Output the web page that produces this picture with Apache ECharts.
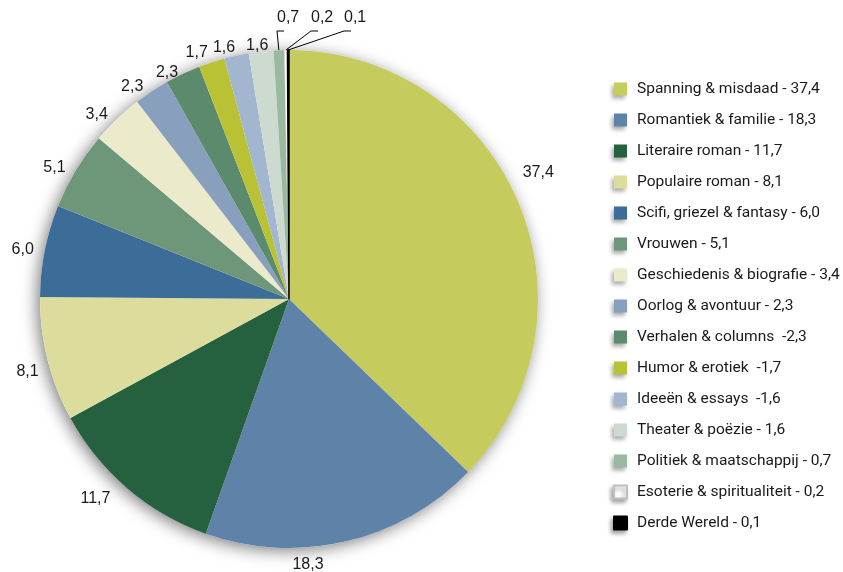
<!DOCTYPE html>
<html>
<head>
<meta charset="utf-8">
<script src="https://cdn.jsdelivr.net/npm/echarts@6/dist/echarts.min.js"></script>
<style>
  html, body { margin: 0; padding: 0; background: #fff; }
  #chart { width: 843px; height: 572px; }
</style>
</head>
<body>
<div id="chart"></div>
<script>
// legend names (as printed), values and slice colours, clockwise from 12 o'clock
const names = [
  "Spanning & misdaad - 37,4",
  "Romantiek & familie - 18,3",
  "Literaire roman - 11,7",
  "Populaire roman - 8,1",
  "Scifi, griezel & fantasy - 6,0",
  "Vrouwen - 5,1",
  "Geschiedenis & biografie - 3,4",
  "Oorlog & avontuur - 2,3",
  "Verhalen & columns  -2,3",
  "Humor & erotiek  -1,7",
  "Ideeën & essays  -1,6",
  "Theater & poëzie - 1,6",
  "Politiek & maatschappij - 0,7",
  "Esoterie & spiritualiteit - 0,2",
  "Derde Wereld - 0,1"
]
const values = [37.4, 18.3, 11.7, 8.1, 6.0, 5.1, 3.4, 2.3, 2.3, 1.7, 1.6, 1.6, 0.7, 0.2, 0.1]
const colors = [
  "#c6cb5d", "#5f82a8", "#26613f", "#dcdd9c", "#3b6d98", "#6e977a", "#ebebcb",
  "#889fbe", "#5b8b6c", "#b9c135", "#a3b6d0", "#ccdacf", "#9bb9a0", "#ffffff", "#000000"
]
// the three thinnest slices get their labels lifted to a row above the pie
const topRow = [12, 13, 14]
// small nudges so the value labels sit where the original put them
const nudge = { 0: [-6, -27], 1: [-60, 17], 2: [-8, 6], 3: [2, 11], 8: [3, 4], 9: [3, -4], 10: [5, -2], 11: [13, 0] }

const chart = echarts.init(document.getElementById("chart"))

const fmt = v => v.toFixed(1).replace(".", ",")

const option = {
  animation: false,
  legend: {
    orient: "vertical",
    left: 608,
    top: 76,
    itemWidth: 13,
    itemHeight: 13,
    itemGap: 15,
    icon: "rect",
    selectedMode: false,
    textStyle: {
      fontFamily: "Roboto, sans-serif",
      fontSize: 15.5,
      color: "#1a1a1a",
      padding: [0, 0, 0, 5]
    },
    itemStyle: {
      shadowBlur: 4,
      shadowOffsetX: -2,
      shadowOffsetY: 3,
      shadowColor: "rgba(0,0,0,0.35)"
    },
    data: names
  },
  series: [
    {
      // soft drop shadow behind the whole pie
      type: "pie",
      silent: true,
      center: [289, 299],
      radius: 249,
      z: 1,
      label: { show: false },
      labelLine: { show: false },
      itemStyle: {
        color: "#ffffff",
        shadowBlur: 16,
        shadowOffsetX: -3,
        shadowOffsetY: 3,
        shadowColor: "rgba(0,0,0,0.5)"
      },
      data: [{ value: 1, name: "" }]
    },
    {
      type: "pie",
      center: [289, 299],
      radius: 249,
      startAngle: 90,
      clockwise: true,
      z: 2,
      avoidLabelOverlap: false,
      label: {
        show: true,
        position: "outside",
        fontFamily: "'Liberation Sans', Arial, sans-serif",
        fontSize: 16,
        color: "#1a1a1a",
        formatter: p => fmt(p.value)
      },
      labelLine: { show: false, length: 6, length2: 0 },
      itemStyle: { borderWidth: 0 },
      labelLayout: function (params) {
        const i = params.dataIndex
        const k = topRow.indexOf(i)
        if (k < 0) {
          const d = nudge[i]
          return d ? { dx: d[0], dy: d[1] } : {}
        }
        const p0 = params.labelLinePoints ? params.labelLinePoints[0] : [289, 50]
        const lx = [277, 311, 344][k]
        return {
          x: lx,
          y: 18,
          align: "left",
          verticalAlign: "middle",
          labelLinePoints: [p0, [lx, 31], [lx + 7, 31]]
        }
      },
      data: values.map((v, i) => ({
        value: v,
        name: names[i],
        itemStyle: i === 13
          ? { color: colors[i], borderColor: "#bfbfbf", borderWidth: 0.5 }
          : i === 14
            ? { color: colors[i], borderColor: "#000", borderWidth: 1.5 }
            : { color: colors[i] },
        labelLine: topRow.indexOf(i) >= 0
          ? { show: true, lineStyle: { color: "#000", width: 1 } }
          : { show: false }
      }))
    }
  ]
}

chart.setOption(option)
</script>
</body>
</html>
